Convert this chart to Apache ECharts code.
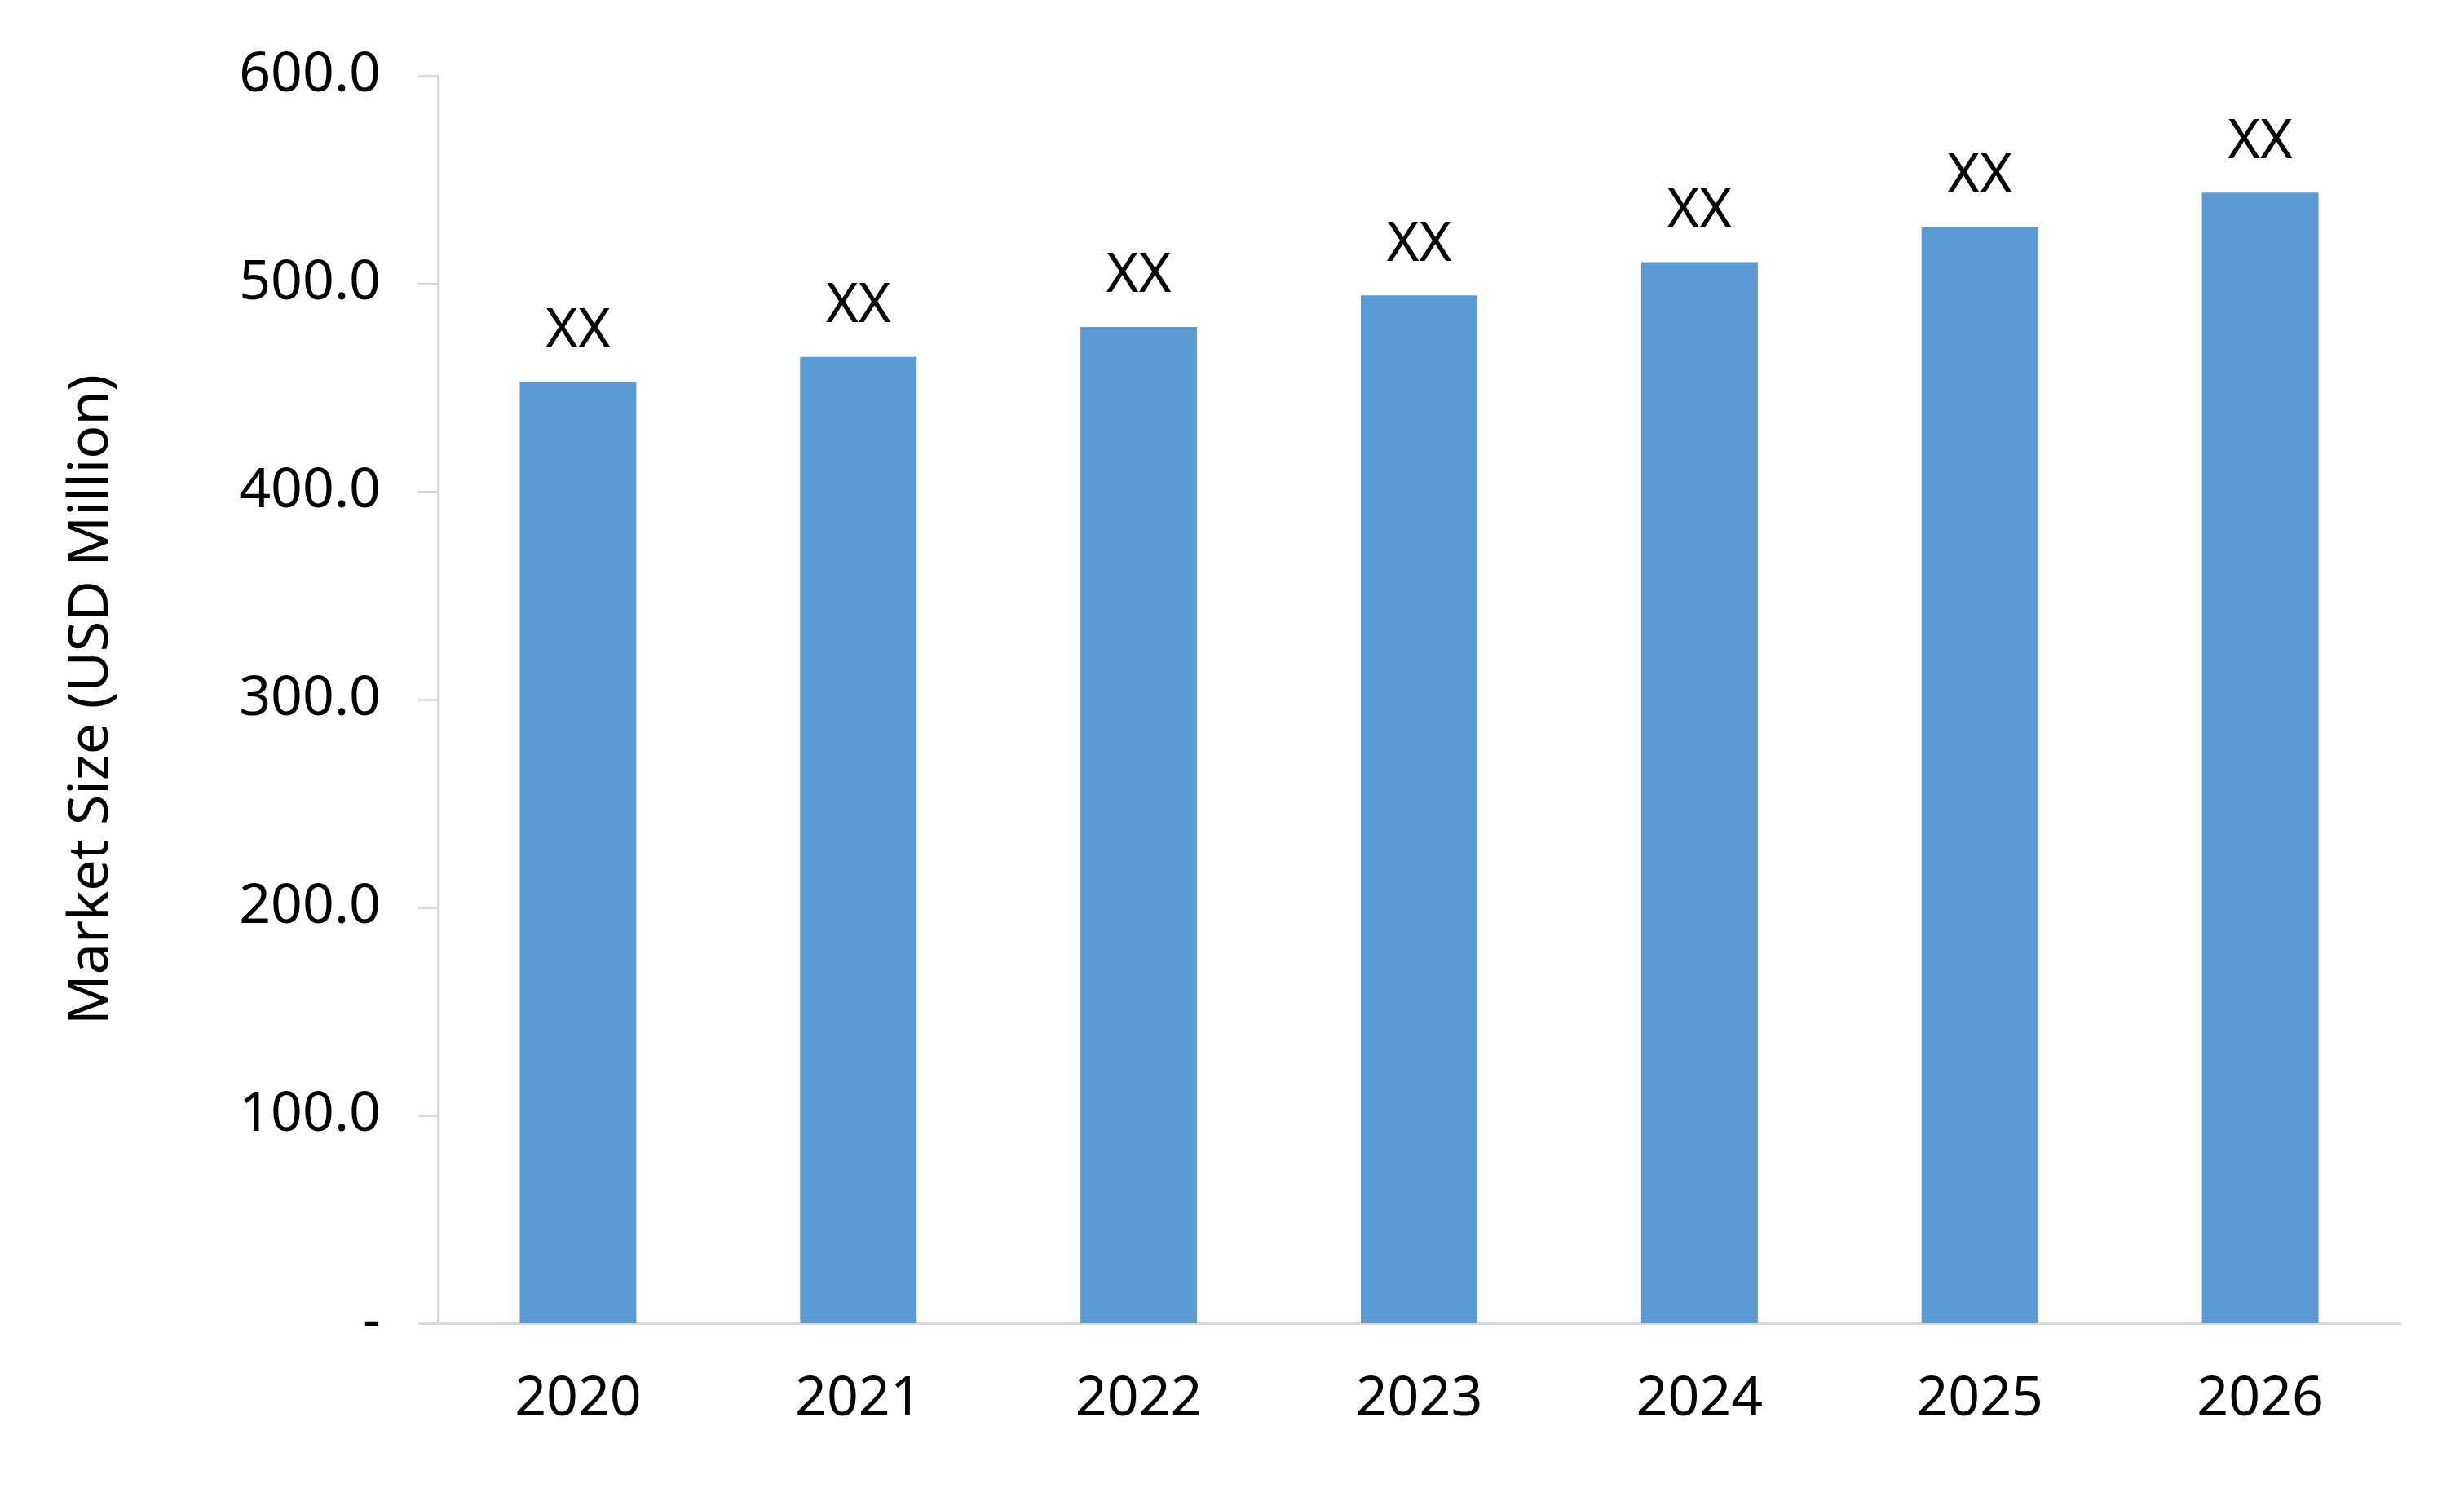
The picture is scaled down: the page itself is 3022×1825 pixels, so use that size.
<!DOCTYPE html>
<html><head><meta charset="utf-8">
<script src="https://cdn.jsdelivr.net/npm/echarts@6/dist/echarts.min.js"></script>
<style>html,body{margin:0;padding:0;background:#fff}#c{width:3022px;height:1825px}</style>
</head><body><div id="c"></div>
<script>
const categories = ['2020','2021','2022','2023','2024','2025','2026'];
const values = [452.7, 464.8, 479.2, 494.4, 510.4, 527.1, 543.8];
const barLabels = ['XX','XX','XX','XX','XX','XX','XX'];
const yTicks = {min:0, max:600, interval:100};
const font = '"Noto Sans", "Open Sans", sans-serif';
const chart = echarts.init(document.getElementById('c'));
chart.setOption({
  animation:false,
  grid:{left:537, right:78, top:93, bottom:202},
  xAxis:{type:'category', data:categories,
    axisLine:{lineStyle:{color:'#d9d9d9', width:3}}, axisTick:{show:false},
    axisLabel:{color:'#000', fontSize:68, fontFamily:font, margin:60}},
  yAxis:{type:'value', min:yTicks.min, max:yTicks.max, interval:yTicks.interval,
    name:'Market Size (USD Million)', nameLocation:'middle', nameGap:390,
    nameTextStyle:{color:'#000', fontSize:68, fontFamily:font},
    axisLine:{show:true, lineStyle:{color:'#d9d9d9', width:3}},
    axisTick:{show:true, length:24, lineStyle:{color:'#d9d9d9', width:3}},
    splitLine:{show:false},
    axisLabel:{color:'#000', fontSize:68, fontFamily:font, margin:70,
      formatter:v=> v===0 ? '-' : v.toFixed(1)}},
  series:[{type:'bar', data:values, barWidth:143, itemStyle:{color:'#5b9bd5'},
    label:{show:true, position:'top', distance:28, color:'#000', fontSize:68, fontFamily:font,
      formatter:p=>barLabels[p.dataIndex]}}]
});
</script></body></html>
